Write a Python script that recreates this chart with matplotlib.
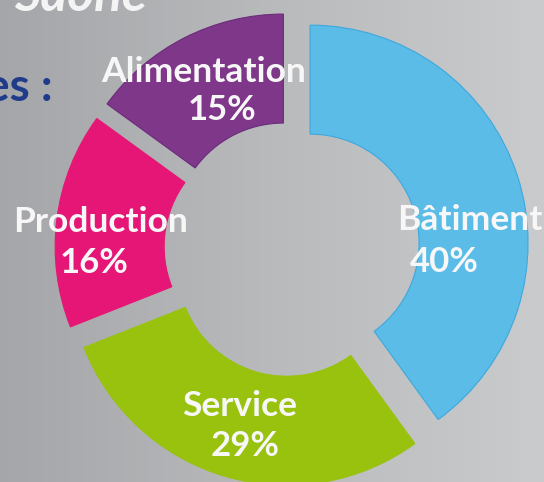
import matplotlib
matplotlib.use("Agg")
import matplotlib.pyplot as plt
import numpy as np
from matplotlib.colors import LinearSegmentedColormap

categories = ["Bâtiment", "Service", "Production", "Alimentation"]
values = [40, 29, 16, 15]
pct_labels = ["40%", "29%", "16%", "15%"]
colors = ["#5BBCE8", "#99C20F", "#E51675", "#7E3789"]
edge_colors = ["#3DA8DD", "#99C20F", "#E51675", "#6B2C7A"]

# label positions (image pixel coords): name line, percent line
name_pos = [(470, 230), (240, 416.5), (101, 231.5), (204, 81.5)]
pct_pos = [(444, 271.5), (245, 456.5), (94, 273), (222, 120)]

W, H = 544, 482
fig = plt.figure(figsize=(W / 100, H / 100), dpi=100)
ax = fig.add_axes([0, 0, 1, 1])

grad = np.linspace(0, 1, 256).reshape(1, -1)
cmap = LinearSegmentedColormap.from_list("bg", ["#a5a6a9", "#b9babc", "#cacbcd"])
ax.imshow(grad, extent=(0, W, H, 0), aspect="auto", cmap=cmap, zorder=-2)

wedges, _ = ax.pie(values, colors=colors, center=(292, 249), radius=218,
                   startangle=-90, counterclock=True, explode=[19] * len(values),
                   wedgeprops=dict(width=109, linewidth=0.8))
for w, ec in zip(wedges, edge_colors):
    w.set_edgecolor(ec)

ax.set_xlim(0, W)
ax.set_ylim(H, 0)
ax.set_aspect("auto")
ax.axis("off")

font = "Lato"
for name, pct, (nx, ny), (px, py) in zip(categories, pct_labels, name_pos, pct_pos):
    ax.text(nx, ny, name, ha="center", va="baseline", fontsize=25.5,
            fontweight="bold", color="#f7f7f7", family=font)
    ax.text(px, py, pct, ha="center", va="baseline", fontsize=25,
            fontweight="bold", color="#f7f7f7", family=font)

ax.text(14, 11, "Saône", ha="left", va="baseline", fontsize=37,
        fontweight="bold", fontstyle="italic", color="#f4f4f4", family=font)
ax.text(53, 101, "es :", ha="right", va="baseline", fontsize=33,
        fontweight="bold", color="#1F3B8A", family=font)

fig.savefig("out.png", dpi=100)
